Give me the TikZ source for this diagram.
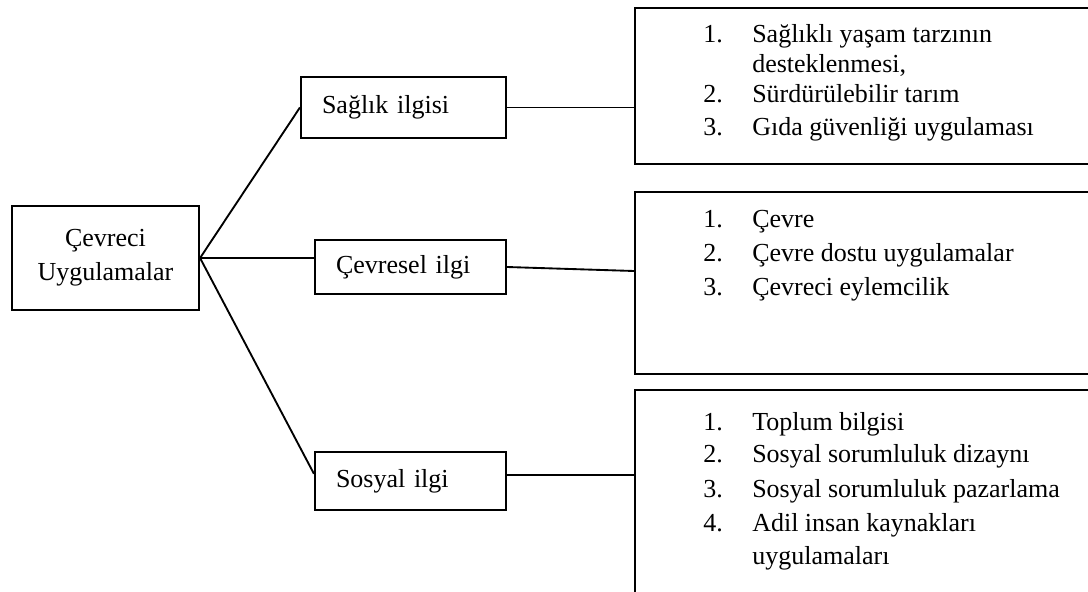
\documentclass[tikz,border=0pt]{standalone}
\usepackage{fontspec}
\setmainfont{Liberation Serif}
\usetikzlibrary{calc}
\begin{document}
\begin{tikzpicture}[x=0.75pt,y=-0.75pt,
  box/.style={draw,line width=1.6pt,rectangle,inner sep=0pt},
  conn/.style={line width=1.4pt},
  txt/.style={font=\fontsize{19.5pt}{25.5pt}\selectfont},
  midbox/.style={box,txt,align=left,inner xsep=15.75pt},
  listline/.style={txt,anchor=base west,inner sep=0pt}]
\useasboundingbox (0,0) rectangle (1088,592);
\clip (0,0) rectangle (1088,592);
\fill[white] (0,0) rectangle (1088,592);

% left box
\node[box,txt,align=center,minimum width=140.25pt,minimum height=78pt] (main) at (105.5,258) {Çevreci\\Uygulamalar};

% middle boxes
\node[midbox,text width=122.25pt,minimum height=45.75pt] (sag) at (403.5,107.5) {Sağlık ilgisi};
\node[midbox,text width=111.75pt,minimum height=40.5pt] (cev) at (410.5,267) {Çevresel ilgi};
\node[midbox,text width=111.75pt,minimum height=43.5pt] (sos) at (410.5,481) {Sosyal ilgi};

% right boxes
\node[box,anchor=north west,minimum width=375pt,minimum height=117pt] (r1) at (634,7) {};
\node[box,anchor=north west,minimum width=375pt,minimum height=136.5pt] (r2) at (634,191) {};
\node[box,anchor=north west,minimum width=375pt,minimum height=187.5pt] (r3) at (634,389) {};

% list texts
\node[listline] (l11) at (703,43) {\makebox[36.75pt][l]{1.}Sağlıklı yaşam tarzının};
\node[listline] (l12) at (752,73) {desteklenmesi,};
\node[listline] (l13) at (703,103) {\makebox[36.75pt][l]{2.}Sürdürülebilir tarım};
\node[listline] (l14) at (703,135) {\makebox[36.75pt][l]{3.}Gıda güvenliği uygulaması};

\node[listline] (l21) at (703,227) {\makebox[36.75pt][l]{1.}Çevre};
\node[listline] (l22) at (703,261) {\makebox[36.75pt][l]{2.}Çevre dostu uygulamalar};
\node[listline] (l23) at (703,295) {\makebox[36.75pt][l]{3.}Çevreci eylemcilik};

\node[listline] (l31) at (703,430) {\makebox[36.75pt][l]{1.}Toplum bilgisi};
\node[listline] (l32) at (703,462) {\makebox[36.75pt][l]{2.}Sosyal sorumluluk dizaynı};
\node[listline] (l33) at (703,497) {\makebox[36.75pt][l]{3.}Sosyal sorumluluk pazarlama};
\node[listline] (l34) at (703,531) {\makebox[36.75pt][l]{4.}Adil insan kaynakları};
\node[listline] (l35) at (752,564) {uygulamaları};

% connectors
\coordinate (sosin) at ($(sos.north west)!0.38!(sos.south west)$);
\coordinate (sosout) at ($(sos.north east)!0.4!(sos.south east)$);
\draw[conn] (main.east) -- (sag.west);
\draw[conn] (main.east) -- (main.east -| cev.west);
\draw[conn] (main.east) -- (sosin);
\draw[conn] (sag.east) -- (sag.east -| r1.west);
\draw[conn] (cev.east) -- ($(cev.east -| r2.west)+(0,4)$);
\draw[conn] (sosout) -- (sosout -| r3.west);
\end{tikzpicture}
\end{document}
